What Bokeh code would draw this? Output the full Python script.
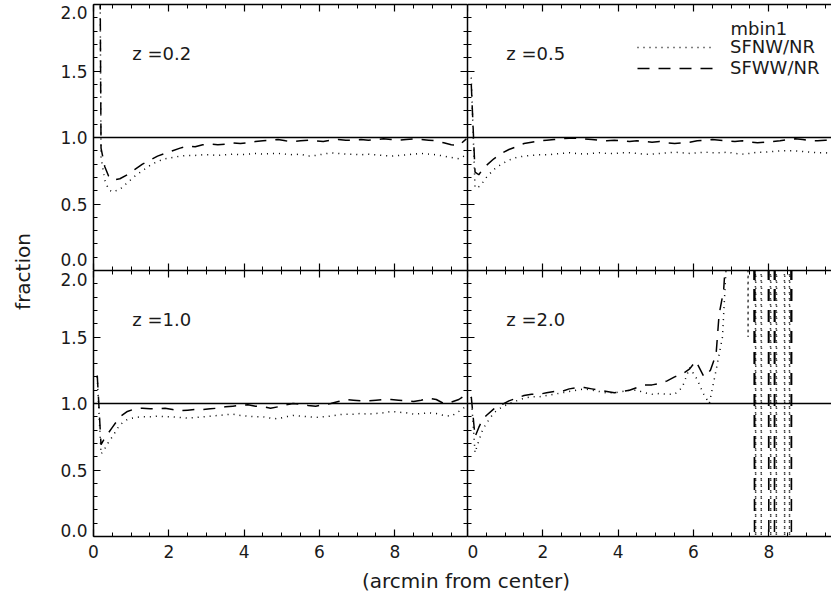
import math
from bokeh.plotting import figure
from bokeh.models import LinearAxis, FixedTicker, Span, Legend, LegendItem
from bokeh.layouts import row, column
from bokeh.core.properties import value
from bokeh.embed import file_html
from bokeh.resources import INLINE

# ---------------- data ----------------
X = [0.1, 0.2, 0.3, 0.4, 0.5, 0.7, 0.9,
     1.1, 1.3, 1.5, 1.7, 1.9, 2.1, 2.3, 2.5, 2.7, 2.9,
     3.1, 3.3, 3.5, 3.7, 3.9, 4.1, 4.3, 4.5, 4.7, 4.9,
     5.1, 5.3, 5.5, 5.7, 5.9, 6.1, 6.3, 6.5, 6.7, 6.9,
     7.1, 7.3, 7.5, 7.7, 7.9, 8.1, 8.3, 8.5, 8.7, 8.9,
     9.1, 9.3, 9.5, 9.7, 9.9]

# z = 0.2
sfnw_z02 = [6.0, 0.85, 0.68, 0.61, 0.59, 0.61, 0.66,
            0.71, 0.75, 0.79, 0.82, 0.84, 0.85, 0.86, 0.865, 0.865, 0.87,
            0.87, 0.865, 0.87, 0.875, 0.87, 0.875, 0.88, 0.875, 0.88, 0.88,
            0.875, 0.87, 0.875, 0.86, 0.865, 0.875, 0.885, 0.88, 0.875, 0.875,
            0.87, 0.875, 0.87, 0.865, 0.86, 0.865, 0.87, 0.875, 0.88, 0.875,
            0.87, 0.86, 0.85, 0.84, 0.87]
sfww_z02 = [6.0, 0.92, 0.78, 0.71, 0.68, 0.69, 0.72,
            0.76, 0.80, 0.83, 0.86, 0.88, 0.90, 0.92, 0.935, 0.93, 0.945,
            0.95, 0.945, 0.95, 0.96, 0.955, 0.96, 0.97, 0.975, 0.98, 0.985,
            0.975, 0.97, 0.975, 0.98, 0.975, 0.97, 0.98, 0.985, 0.98, 0.98,
            0.985, 0.98, 0.985, 0.99, 0.985, 0.98, 0.985, 0.99, 0.985, 0.98,
            0.975, 0.96, 0.945, 0.94, 0.99]

# z = 0.5
sfnw_z05 = [1.45, 0.62, 0.63, 0.66, 0.70, 0.76, 0.80,
            0.83, 0.85, 0.86, 0.865, 0.87, 0.87, 0.875, 0.88, 0.885, 0.88,
            0.875, 0.88, 0.885, 0.88, 0.88, 0.885, 0.885, 0.88, 0.875, 0.875,
            0.88, 0.885, 0.89, 0.885, 0.88, 0.885, 0.89, 0.885, 0.885, 0.89,
            0.88, 0.875, 0.88, 0.89, 0.89, 0.895, 0.90, 0.90, 0.90, 0.895,
            0.89, 0.885, 0.885, 0.88, 0.88]
sfww_z05 = [1.40, 0.74, 0.72, 0.76, 0.79, 0.84, 0.88,
            0.91, 0.93, 0.955, 0.965, 0.975, 0.98, 0.985, 0.99, 0.995, 0.995,
            0.99, 0.985, 0.98, 0.975, 0.98, 0.975, 0.97, 0.975, 0.97, 0.965,
            0.97, 0.96, 0.955, 0.96, 0.965, 0.975, 0.98, 0.985, 0.98, 0.975,
            0.97, 0.975, 0.965, 0.96, 0.965, 0.97, 0.975, 0.985, 0.99, 0.985,
            0.975, 0.975, 0.98, 0.975, 0.97]

# z = 1.0
sfnw_z10 = [1.20, 0.62, 0.66, 0.71, 0.75, 0.84, 0.88,
            0.895, 0.90, 0.90, 0.905, 0.90, 0.90, 0.895, 0.89, 0.895, 0.90,
            0.905, 0.91, 0.915, 0.92, 0.91, 0.905, 0.90, 0.90, 0.89, 0.885,
            0.90, 0.91, 0.905, 0.90, 0.895, 0.90, 0.905, 0.915, 0.92, 0.92,
            0.925, 0.92, 0.925, 0.93, 0.94, 0.935, 0.93, 0.92, 0.925, 0.93,
            0.925, 0.91, 0.905, 0.94, 0.98]
sfww_z10 = [1.21, 0.69, 0.74, 0.78, 0.82, 0.90, 0.94,
            0.96, 0.965, 0.96, 0.96, 0.965, 0.955, 0.945, 0.95, 0.955, 0.955,
            0.96, 0.965, 0.975, 0.98, 0.985, 0.99, 0.98, 0.975, 0.965, 0.975,
            0.99, 1.00, 0.995, 0.985, 0.98, 0.99, 1.00, 1.015, 1.03, 1.025,
            1.02, 1.02, 1.025, 1.03, 1.03, 1.025, 1.02, 1.015, 1.025, 1.04,
            1.03, 1.00, 1.01, 1.03, 1.07]

# z = 2.0 (own sampling in the noisy outer part)
x_z20_nw = [0.1, 0.2, 0.3, 0.4, 0.5, 0.7, 0.9,
            1.1, 1.3, 1.5, 1.7, 1.9, 2.1, 2.3, 2.5, 2.7, 2.9,
            3.1, 3.3, 3.5, 3.7, 3.9, 4.1, 4.3, 4.5, 4.7, 4.9,
            5.1, 5.3, 5.5, 5.7, 5.9, 6.1, 6.25, 6.42, 6.6, 6.77, 6.9,
            7.1, 7.3, 7.45, 7.55, 7.65, 7.72, 7.8, 7.92, 8.05, 8.12,
            8.2, 8.32, 8.42, 8.48, 8.55, 8.65]
sfnw_z20 = [1.05, 0.63, 0.72, 0.80, 0.85, 0.93, 0.97,
            1.00, 1.02, 1.04, 1.05, 1.05, 1.06, 1.07, 1.08, 1.09, 1.10,
            1.11, 1.10, 1.09, 1.08, 1.08, 1.09, 1.10, 1.10, 1.08, 1.07,
            1.075, 1.07, 1.07, 1.12, 1.27, 1.18, 1.08, 1.00, 1.25, 1.50, 2.2,
            30.0, 30.0, 1.50, 30.0, 0.0, 30.0, 0.0, 30.0, 0.0, 30.0,
            0.0, 30.0, 0.0, 30.0, 0.0, 30.0]
x_z20_ww = [0.1, 0.2, 0.3, 0.4, 0.5, 0.7, 0.9,
            1.1, 1.3, 1.5, 1.7, 1.9, 2.1, 2.3, 2.5, 2.7, 2.9,
            3.1, 3.3, 3.5, 3.7, 3.9, 4.1, 4.3, 4.5, 4.7, 4.9,
            5.1, 5.3, 5.5, 5.7, 5.9, 6.06, 6.28, 6.45, 6.6, 6.68, 6.8, 6.95,
            7.1, 7.4, 7.62, 7.8, 8.0, 8.08, 8.15, 8.4, 8.6, 8.75]
sfww_z20 = [1.05, 0.75, 0.82, 0.88, 0.91, 0.96, 0.99,
            1.02, 1.04, 1.06, 1.07, 1.07, 1.08, 1.09, 1.09, 1.11, 1.12,
            1.12, 1.11, 1.10, 1.09, 1.08, 1.09, 1.10, 1.12, 1.14, 1.14,
            1.15, 1.17, 1.20, 1.22, 1.26, 1.32, 1.20, 1.25, 1.37, 1.67, 1.85, 2.5,
            30.0, 30.0, 0.0, 30.0, 0.0, 30.0, 0.0, 30.0, 0.0, 30.0]

panel_labels = ["z =0.2", "z =0.5", "z =1.0", "z =2.0"]
legend_title = "mbin1"
series_names = ["SFNW/NR", "SFWW/NR"]
y_ticks = [0.0, 0.5, 1.0, 1.5, 2.0]
y_tick_labels = ["0.0", "0.5", "1.0", "1.5", "2.0"]
x_ticks = [0, 2, 4, 6, 8]
x_tick_labels = ["0", "2", "4", "6", "8"]
x_title = "(arcmin from center)"
y_title = "fraction"

# ---------------- style ----------------
FONT = "DejaVu Sans"
TEXT = "#1a1a1a"
XMAX_L = 9.93
LEFT_W, RIGHT_W = 427, 364
LEFT_BORDER = 53
PX_PER_X = (LEFT_W - LEFT_BORDER) / XMAX_L
XMAX_R = RIGHT_W / PX_PER_X
TOP_H, BOT_H = 270, 296
FRAME_H = 266
PX_PER_Y = FRAME_H / 2.0
YLAB_W, XLAB_H = 40, 33
# the end labels sit inside their own panel's height (pixels inward)
END_SHIFT_TOP = (11, 8)     # (bottom label up, top label down) for top row
END_SHIFT_BOT = (6, 9)      # same for bottom row

x_minor = [i * 0.5 for i in range(1, 20) if i % 4]
y_minor = [round(i * 0.1, 1) for i in range(1, 20) if i % 5]


def style_axis(ax):
    ax.axis_line_width = 1.5
    ax.axis_line_color = "black"
    ax.major_tick_in = 7
    ax.major_tick_out = 0
    ax.minor_tick_in = 4
    ax.minor_tick_out = 0
    ax.major_tick_line_width = 1.2
    ax.minor_tick_line_width = 1.0


def no_labels(ax):
    ax.major_label_text_font_size = "0px"
    ax.major_label_text_color = None
    ax.major_label_standoff = 0


def add_axis(p, side, ticks, minor, labels=None, standoff=6):
    ax = LinearAxis(ticker=FixedTicker(ticks=ticks, minor_ticks=minor))
    style_axis(ax)
    if labels is None:
        no_labels(ax)
    else:
        ax.major_label_overrides = labels
        ax.major_label_text_font = FONT
        ax.major_label_text_font_size = "17px"
        ax.major_label_text_color = TEXT
        ax.major_label_standoff = standoff
    p.add_layout(ax, side)
    return ax


def panel(width, height, xmax, left, top, bottom, label, xs, ys_nw, ys_ww):
    p = figure(width=width, height=height, x_range=(0, xmax), y_range=(0, 2.0),
               x_axis_type=None, y_axis_type=None,
               output_backend="svg", toolbar_location=None,
               min_border_left=LEFT_BORDER if left else 0, min_border_right=0,
               min_border_top=4 if top else 0,
               min_border_bottom=30 if bottom else 0)
    p.outline_line_color = None
    p.background_fill_color = "white"
    p.border_fill_color = "white"
    # left axis: line + ticks
    add_axis(p, "left", y_ticks, y_minor, None)
    if left:
        # second left axis carrying only the labels; end labels nudged inward
        sb, st = END_SHIFT_TOP if top else END_SHIFT_BOT
        pos = list(y_ticks)
        pos[0] = y_ticks[0] + sb / PX_PER_Y
        pos[-1] = y_ticks[-1] - st / PX_PER_Y
        lab = add_axis(p, "left", pos, [], dict(zip(pos, y_tick_labels)),
                       standoff=6)
        lab.axis_line_color = None
        lab.major_tick_line_color = None
        lab.minor_tick_line_color = None
        lab.major_tick_in = 0
        lab.minor_tick_in = 0
        add_axis(p, "right", y_ticks, y_minor, None)
    add_axis(p, "above", x_ticks, x_minor, None)
    add_axis(p, "below", x_ticks, x_minor,
             dict(zip(x_ticks, x_tick_labels)) if bottom else None, standoff=8)

    p.add_layout(Span(location=1.0, dimension="width", line_color="black",
                      line_width=1.6))
    xnw, xww = xs
    r1 = p.line(xnw, ys_nw, line_color="black", line_width=1.5, line_dash="1 5")
    r2 = p.line(xww, ys_ww, line_color="black", line_width=1.5, line_dash="12 9")
    p.text(x=[1.03], y=[1.635], text=[label], text_font=value(FONT),
           text_font_size=value("18px"), text_color=TEXT,
           text_align="left", text_baseline="middle")
    return p, r1, r2


tl, _, _ = panel(LEFT_W, TOP_H, XMAX_L, True, True, False, panel_labels[0],
                 (X, X), sfnw_z02, sfww_z02)
tr, r_nw, r_ww = panel(RIGHT_W, TOP_H, XMAX_R, False, True, False, panel_labels[1],
                       (X, X), sfnw_z05, sfww_z05)
bl, _, _ = panel(LEFT_W, BOT_H, XMAX_L, True, False, True, panel_labels[2],
                 (X, X), sfnw_z10, sfww_z10)
br, _, _ = panel(RIGHT_W, BOT_H, XMAX_R, False, False, True, panel_labels[3],
                 (x_z20_nw, x_z20_ww), sfnw_z20, sfww_z20)

# legend in the z=0.5 panel
tr.text(x=[6.983], y=[1.823], text=[legend_title], text_font=value(FONT),
        text_font_size=value("18px"), text_color=TEXT,
        text_align="left", text_baseline="middle")
legend = Legend(items=[LegendItem(label=series_names[0], renderers=[r_nw]),
                       LegendItem(label=series_names[1], renderers=[r_ww])],
                location=(170, 192), glyph_width=78, glyph_height=20,
                label_height=20, label_standoff=15, spacing=0, padding=0,
                border_line_color=None, background_fill_alpha=0,
                label_text_font=FONT, label_text_font_size="18px",
                label_text_color=TEXT)
tr.add_layout(legend)

# axis titles
ylab = figure(width=YLAB_W, height=TOP_H + BOT_H, x_range=(0, YLAB_W),
              y_range=(0, TOP_H + BOT_H), x_axis_type=None, y_axis_type=None,
              output_backend="svg", toolbar_location=None,
              min_border=0)
ylab.outline_line_color = None
ylab.text(x=[22], y=[TOP_H + BOT_H - 271], text=[y_title], angle=math.pi / 2,
          text_font=value(FONT), text_font_size=value("20px"), text_color=TEXT,
          text_align="center", text_baseline="middle")

total_w = YLAB_W + LEFT_W + RIGHT_W
xlab = figure(width=total_w, height=XLAB_H, x_range=(0, total_w),
              y_range=(0, XLAB_H), x_axis_type=None, y_axis_type=None,
              output_backend="svg", toolbar_location=None, min_border=0)
xlab.outline_line_color = None
xlab.text(x=[465.5], y=[19], text=[x_title], text_font=value(FONT),
          text_font_size=value("20px"), text_color=TEXT,
          text_align="center", text_baseline="middle")

layout = column(row(ylab, column(row(tl, tr), row(bl, br))), xlab)

open("out.html", "w").write(file_html(layout, INLINE))
